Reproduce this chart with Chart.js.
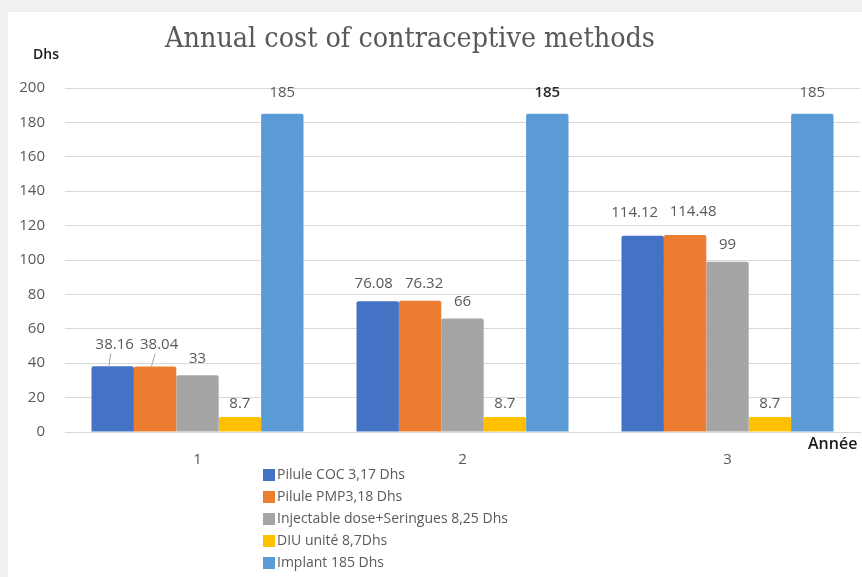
<!DOCTYPE html>
<html>
<head>
<meta charset="utf-8">
<script src="https://cdn.jsdelivr.net/npm/chart.js@4/dist/chart.umd.min.js"></script>
<style>
  html, body { margin: 0; padding: 0; background: #eef0f2; }
  #wrap { width: 862px; height: 577px; }
</style>
</head>
<body>
<div id="wrap"><canvas id="c" width="862" height="577"></canvas></div>
<script>
// Years on the x axis
const years = ['1', '2', '3'];

// Annual cost per method (Dhs)
const pilluleCOC = [38.16, 76.08, 114.12];
const pillulePMP = [38.04, 76.32, 114.48];
const injectable = [33, 66, 99];
const diu = [8.7, 8.7, 8.7];
const implant = [185, 185, 185];

const seriesNames = [
  'Pilule COC 3,17 Dhs',
  'Pilule PMP3,18 Dhs',
  'Injectable dose+Seringues 8,25 Dhs',
  'DIU unité 8,7Dhs',
  'Implant 185 Dhs'
];
const seriesColors = ['#4472C4', '#ED7D31', '#A5A5A5', '#FFC000', '#5B9BD5'];

const yTicks = [0, 20, 40, 60, 80, 100, 120, 140, 160, 180, 200];

const sansFamily = '"Open Sans", "Liberation Sans", sans-serif';
const labelFont = '15px ' + sansFamily;
const textGray = '#595959';

// White panel, title, axis captions and the vertical legend
const decorations = {
  id: 'decorations',
  beforeDraw(chart) {
    const ctx = chart.ctx;
    ctx.save();
    ctx.fillStyle = '#eef0f2';
    ctx.fillRect(0, 0, chart.width, chart.height);
    ctx.fillStyle = '#ffffff';
    ctx.fillRect(8, 12, chart.width - 8, chart.height - 12);
    ctx.restore();
  },
  afterDraw(chart) {
    const ctx = chart.ctx;
    ctx.save();
    // title: condensed serif, sized to span about 490px
    const title = 'Annual cost of contraceptive methods';
    ctx.fillStyle = '#595959';
    ctx.textAlign = 'center';
    ctx.textBaseline = 'middle';
    const fam = '"DejaVu Serif Condensed", "Liberation Serif", serif';
    ctx.font = '30px ' + fam;
    const w = ctx.measureText(title).width;
    const size = Math.max(22, Math.min(36, 30 * 490 / w));
    ctx.font = size.toFixed(1) + 'px ' + fam;
    ctx.fillText(title, 410, 40);

    // axis captions
    ctx.fillStyle = '#1a1a1a';
    ctx.textAlign = 'left';
    ctx.font = '600 14px ' + sansFamily;
    ctx.fillText('Dhs', 33, 55);
    ctx.font = '600 16px ' + sansFamily;
    ctx.fillText('Année', 808, 444);

    // legend, one entry per line
    ctx.font = '14px ' + sansFamily;
    ctx.textBaseline = 'middle';
    chart.data.datasets.forEach((ds, i) => {
      const y = 475 + i * 22;
      ctx.fillStyle = ds.backgroundColor;
      ctx.fillRect(263, y - 6, 12, 12);
      ctx.fillStyle = textGray;
      ctx.fillText(ds.label, 277, y);
    });
    ctx.restore();
  }
};

// Value labels above every bar; crowded neighbours are nudged apart
const valueLabels = {
  id: 'valueLabels',
  afterDatasetsDraw(chart) {
    const ctx = chart.ctx;
    ctx.save();
    ctx.textAlign = 'center';
    ctx.textBaseline = 'middle';
    chart.data.datasets.forEach((ds, di) => {
      const meta = chart.getDatasetMeta(di);
      meta.data.forEach((bar, i) => {
        const txt = String(ds.data[i]);
        let x = bar.x;
        let y = bar.y - 17;
        if (di === 0 || di === 1) {
          const spread = [0, 4, 8][i];
          x += di === 0 ? -spread : spread;
          if (i === 2) y = bar.y - 23;
        }
        if (i === 0 && (di === 0 || di === 1)) {
          // the two close first-year labels sit higher with a leader line
          y = bar.y - 22;
          x = di === 0 ? bar.x + 2 : bar.x + 4;
          ctx.strokeStyle = '#a6a6a6';
          ctx.lineWidth = 1;
          ctx.beginPath();
          ctx.moveTo(x - 4, y + 9);
          ctx.lineTo(bar.x - 4, bar.y + 1);
          ctx.stroke();
        }
        if (di === 3) y = bar.y - 13;
        if (di === 4) y = bar.y - 21;
        const bold = (di === 4 && i === 1);
        ctx.fillStyle = bold ? '#262626' : textGray;
        ctx.font = bold ? '600 15px ' + sansFamily : labelFont;
        ctx.fillText(txt, x, y);
      });
    });
    ctx.restore();
  }
};

const allSeries = [pilluleCOC, pillulePMP, injectable, diu, implant];

new Chart(document.getElementById('c'), {
  type: 'bar',
  data: {
    labels: years,
    datasets: allSeries.map((vals, i) => ({
      label: seriesNames[i],
      data: vals,
      backgroundColor: seriesColors[i],
      borderWidth: 0,
      borderRadius: 2,
      categoryPercentage: 0.8,
      barPercentage: 1.0
    }))
  },
  options: {
    responsive: false,
    animation: false,
    devicePixelRatio: 1,
    layout: { padding: { top: 88, right: 2, left: 0, bottom: 0 } },
    plugins: {
      legend: { display: false },
      title: { display: false },
      tooltip: { enabled: false }
    },
    scales: {
      x: {
        grid: { display: false, drawTicks: false },
        border: { display: true, color: '#d9d9d9', width: 1 },
        ticks: {
          color: textGray,
          font: { size: 15, family: sansFamily },
          padding: 19
        },
        afterFit(scale) { scale.height = 145; }
      },
      y: {
        min: 0,
        max: 200,
        afterBuildTicks(scale) { scale.ticks = yTicks.map(v => ({ value: v })); },
        grid: { color: '#d9d9d9', drawTicks: false, lineWidth: 1 },
        border: { display: false },
        ticks: {
          color: textGray,
          font: { size: 15, family: sansFamily },
          padding: 20
        },
        afterFit(scale) { scale.width = 65; }
      }
    }
  },
  plugins: [decorations, valueLabels]
});
</script>
</body>
</html>
